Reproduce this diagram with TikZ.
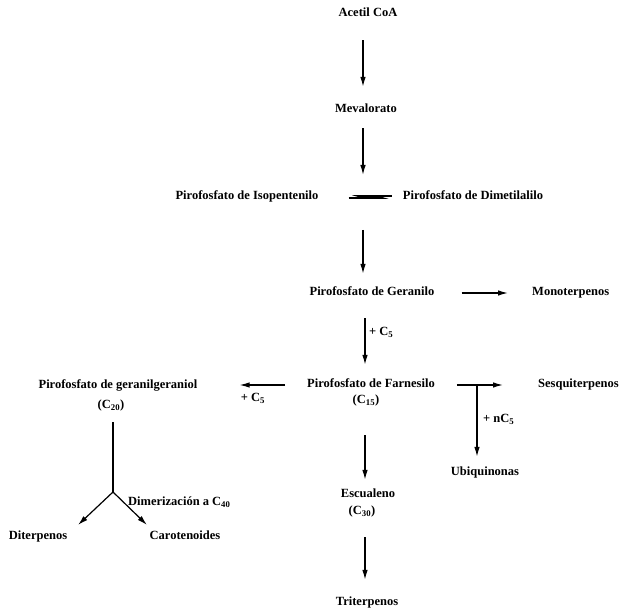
\documentclass[tikz,border=0pt]{standalone}
\usepackage{fontspec}
\setmainfont{Liberation Serif}
\usetikzlibrary{arrows.meta}
\begin{document}
\begin{tikzpicture}[x=1pt,y=-1pt,
  lbl/.style={font=\bfseries\fontsize{12.5}{14}\selectfont, inner sep=0pt, text height=9pt, text depth=3pt},
  arr/.style={line width=1.2pt, -{Latex[length=10pt,width=5.5pt]}},
  ln/.style={line width=1.2pt},
  hr/.style={line width=1.7pt, -{Latex[harpoon,length=9pt,width=5pt]}}]
\useasboundingbox[fill=white] (0,0) rectangle (625,612);
% nodes
\node[lbl] (acetil) at (368,14) {Acetil CoA};
\node[lbl] (meva) at (366,110) {Mevalorato};
\node[lbl] (iso) at (247,197) {Pirofosfato de Isopentenilo};
\node[lbl] (dim) at (473,197) {Pirofosfato de Dimetilalilo};
\coordinate (eqc) at (363,197);
\node[lbl] (ger) at (372,293) {Pirofosfato de Geranilo};
\node[lbl, anchor=west] (mono) at (532,293) {Monoterpenos};
\node[lbl] (farn) at (371,385) {Pirofosfato de Farnesilo};
\node[lbl] (c15) at (366,401) {(C\textsubscript{15})};
\node[lbl] (gg) at (118,386) {Pirofosfato de geranilgeraniol};
\node[lbl] (c20) at (111,406) {(C\textsubscript{20})};
\node[lbl, anchor=west] (sesq) at (538,385) {Sesquiterpenos};
\node[lbl] (ubiq) at (485,473) {Ubiquinonas};
\node[lbl] (esc) at (368,495) {Escualeno};
\node[lbl] (c30) at (362,512) {(C\textsubscript{30})};
\node[lbl] (trit) at (367,603) {Triterpenos};
\node[lbl] (diterp) at (38,537) {Diterpenos};
\node[lbl] (carot) at (185,537) {Carotenoides};
\node[lbl, anchor=west] (dimer) at (128,503) {Dimerización a C\textsubscript{40}};
\node[lbl, anchor=west] (pc5a) at (369,333) {+ C\textsubscript{5}};
\node[lbl] (pc5b) at (253,399) {+ C\textsubscript{5}};
\node[lbl, anchor=west] (pnc5) at (483,420) {+ nC\textsubscript{5}};
\coordinate (colB) at (365,0);
\coordinate (br) at (477,385);
\coordinate (j) at (113,492);
\coordinate (jl) at (78,525);
\coordinate (jr) at (147,525);
% connectors
\draw[arr, shorten <=20pt, shorten >=17pt] (acetil.south -| eqc) -- (meva.north -| eqc);
\draw[arr, shorten <=12pt, shorten >=22pt] (meva.south -| eqc) -- (eqc);
\draw[hr, shorten <=30pt, shorten >=11pt] ([yshift=-1pt]iso.east) -- ([yshift=-1pt]dim.west);
\draw[hr, shorten <=11pt, shorten >=30pt] ([yshift=1pt]dim.west) -- ([yshift=1pt]iso.east);
\draw[arr, shorten <=33pt, shorten >=13pt] (eqc) -- (eqc |- ger.north);
\draw[arr, shorten <=27pt, shorten >=24pt] (ger.east) -- (mono.west);
\draw[arr, shorten <=19pt, shorten >=14pt] (ger.south -| colB) -- (farn.north -| colB);
\draw[arr, shorten <=22pt, shorten >=42pt] (farn.west) -- (gg.east |- farn.west);
\draw[arr, shorten <=22pt, shorten >=35pt] (farn.east) -- (sesq.west);
\draw[arr, shorten >=10pt] (br) -- (br |- ubiq.north);
\draw[arr, shorten <=28pt, shorten >=9pt] (c15.south -| colB) -- (esc.north -| colB);
\draw[arr, shorten <=19pt, shorten >=17pt] (c30.south -| colB) -- (trit.north -| colB);
\draw[ln, shorten <=10pt] (c20.south -| j) -- (j);
\draw[arr] (j) -- (jl);
\draw[arr] (j) -- (jr);
\end{tikzpicture}
\end{document}
